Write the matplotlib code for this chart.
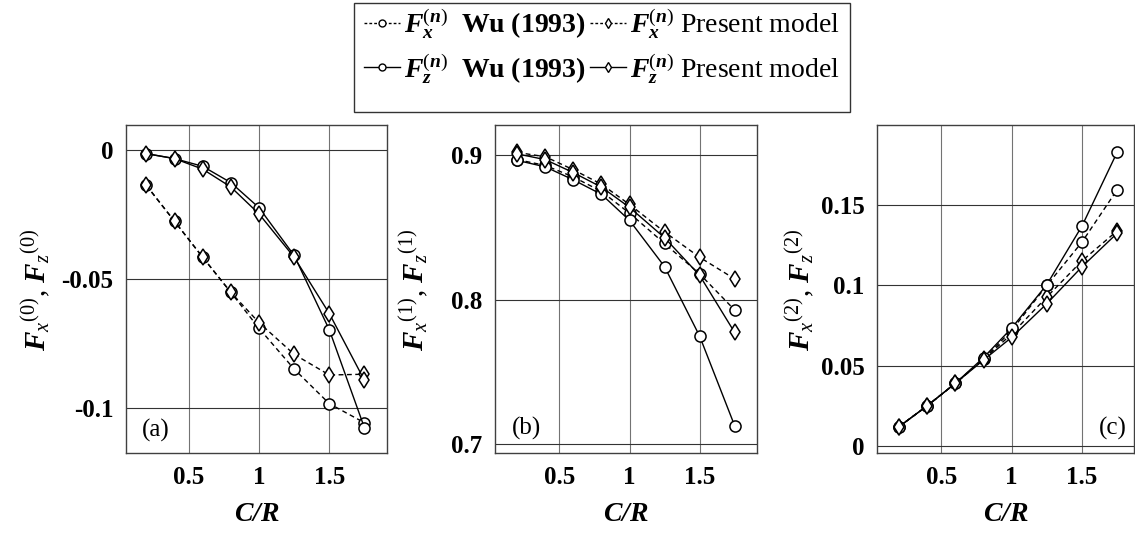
#!/usr/bin/env python3
"""Forces F_x^(n), F_z^(n) against C/R: Wu (1993) vs present model."""

import matplotlib

matplotlib.use("Agg")
import matplotlib.pyplot as plt
from matplotlib.lines import Line2D
from matplotlib.patches import Rectangle

plt.rcParams["font.family"] = ["Liberation Serif", "DejaVu Serif"]
plt.rcParams["mathtext.fontset"] = "custom"
plt.rcParams["mathtext.rm"] = "Liberation Serif"
plt.rcParams["mathtext.it"] = "Liberation Serif:italic"
plt.rcParams["mathtext.bf"] = "Liberation Serif:bold"
plt.rcParams["mathtext.bfit"] = "Liberation Serif:italic:bold"

# C/R sample points shared by every curve
cr = [0.2, 0.4, 0.6, 0.8, 1.0, 1.25, 1.5, 1.75]

# (a) n = 0
fx0_wu = [-0.0139, -0.0278, -0.0417, -0.0553, -0.0692, -0.0850, -0.0984, -0.1058]
fx0_present = [-0.0139, -0.0278, -0.0417, -0.0553, -0.0670, -0.0793, -0.0873, -0.0870]
fz0_wu = [-0.0016, -0.0035, -0.0065, -0.0128, -0.0225, -0.0410, -0.0698, -0.1078]
fz0_present = [-0.0016, -0.0035, -0.0076, -0.0145, -0.0249, -0.0417, -0.0635, -0.0894]

# (b) n = 1
fx1_wu = [0.897, 0.893, 0.885, 0.875, 0.860, 0.839, 0.818, 0.793]
fx1_present = [0.902, 0.899, 0.890, 0.880, 0.866, 0.847, 0.8295, 0.8145]
fz1_wu = [0.8965, 0.892, 0.883, 0.873, 0.855, 0.823, 0.775, 0.713]
fz1_present = [0.901, 0.897, 0.888, 0.878, 0.864, 0.843, 0.817, 0.7775]

# (c) n = 2
fx2_wu = [0.012, 0.025, 0.039, 0.054, 0.072, 0.100, 0.127, 0.1596]
fx2_present = [0.012, 0.025, 0.039, 0.054, 0.0697, 0.0928, 0.1153, 0.134]
fz2_wu = [0.012, 0.025, 0.039, 0.055, 0.0734, 0.1005, 0.137, 0.183]
fz2_present = [0.012, 0.025, 0.039, 0.0535, 0.0676, 0.0886, 0.1116, 0.1325]

x_ticks = [0.5, 1, 1.5]
x_ticklabels = ["0.5", "1", "1.5"]
y_ticks = [[0, -0.05, -0.1], [0.7, 0.8, 0.9], [0, 0.05, 0.1, 0.15]]
y_ticklabels = [["0", "-0.05", "-0.1"], ["0.7", "0.8", "0.9"], ["0", "0.05", "0.1", "0.15"]]
panel_tags = ["(a)", "(b)", "(c)"]
y_labels = [
    r"$\mathbfit{F}_{x}{}^{(0)}$, $\mathbfit{F}_{z}{}^{(0)}$",
    r"$\mathbfit{F}_{x}{}^{(1)}$, $\mathbfit{F}_{z}{}^{(1)}$",
    r"$\mathbfit{F}_{x}{}^{(2)}$, $\mathbfit{F}_{z}{}^{(2)}$",
]
legend_labels = [
    r"$\mathbfit{F}_{\mathbfit{x}}^{(\mathbfit{n})}$  $\mathbf{Wu\ (1993)}$",
    r"$\mathbfit{F}_{\mathbfit{z}}^{(\mathbfit{n})}$  $\mathbf{Wu\ (1993)}$",
    r"$\mathbfit{F}_{\mathbfit{x}}^{(\mathbfit{n})}$ Present model",
    r"$\mathbfit{F}_{\mathbfit{z}}^{(\mathbfit{n})}$ Present model",
]

panels = [
    (fx0_wu, fx0_present, fz0_wu, fz0_present),
    (fx1_wu, fx1_present, fz1_wu, fz1_present),
    (fx2_wu, fx2_present, fz2_wu, fz2_present),
]

W, H = 1135, 534
fig = plt.figure(figsize=(W / 100, H / 100), dpi=100)

# axes boxes in pixels: left, right, xlim
boxes = [(126, 387, (0.055, 1.91)), (495, 757, (0.04, 1.91)), (877, 1134, (0.042, 1.87))]
ylims = [(-0.1175, 0.0095), (0.694, 0.921), (-0.0045, 0.2)]
ylabel_x = [36, 414, 800]
tag_pos = [(0.06, 0.07, "left"), (0.064, 0.076, "left"), (0.97, 0.076, "right")]
top_px, bot_px = 125, 453

dash = (0, (3.5, 2.5))
style = dict(color="black", lw=1.0, mfc="white", mec="black", mew=1.1)

for i, (fx_wu, fx_pr, fz_wu, fz_pr) in enumerate(panels):
    left, right, xlim = boxes[i]
    ax = fig.add_axes([left / W, 1 - bot_px / H, (right - left) / W, (bot_px - top_px) / H])
    ax.plot(cr, fx_wu, ls=dash, marker="o", ms=8, zorder=3, **style)
    ax.plot(cr, fx_pr, ls=dash, marker="d", ms=8, zorder=3, **style)
    ax.plot(cr, fz_wu, ls="-", marker="o", ms=8, zorder=3, **style)
    ax.plot(cr, fz_pr, ls="-", marker="d", ms=8, zorder=3, **style)

    ax.set_xlim(*xlim)
    ax.set_ylim(*ylims[i])
    ax.set_xticks(x_ticks)
    ax.set_xticklabels(x_ticklabels)
    ax.set_yticks(y_ticks[i])
    ax.set_yticklabels(y_ticklabels[i])
    ax.tick_params(length=0, pad=9, labelsize=18)
    for lab in ax.get_xticklabels() + ax.get_yticklabels():
        lab.set_fontweight("bold")
    ax.grid(True, axis="x", color="0.45", lw=0.8)
    ax.grid(True, axis="y", color="0.2", lw=0.8)
    ax.set_axisbelow(True)
    for sp in ax.spines.values():
        sp.set_color("0.25")
        sp.set_linewidth(1.0)

    ax.set_xlabel(r"$\mathbfit{C/R}$", fontsize=20)
    ax.xaxis.set_label_coords(0.5, -0.15)
    fig.text(ylabel_x[i] / W, 1 - 290 / H, y_labels[i], rotation=90,
             ha="center", va="center", fontsize=21)
    tx, ty, ha = tag_pos[i]
    ax.text(tx, ty, panel_tags[i], transform=ax.transAxes, ha=ha, va="center", fontsize=18)

# legend handles use a finer dash than the curves
leg_dash = (0, (2.0, 1.5))
leg_style = dict(color="black", lw=1.0, mfc="white", mec="black", mew=1.0, ms=5)
handles = [
    Line2D([], [], ls=leg_dash, marker="o", **leg_style),
    Line2D([], [], ls="-", marker="o", **leg_style),
    Line2D([], [], ls=leg_dash, marker="d", **leg_style),
    Line2D([], [], ls="-", marker="d", **leg_style),
]
fig.legend(handles, legend_labels, ncol=2, loc="upper center",
           bbox_to_anchor=(602 / W, 1 + 13 / H), frameon=False, fontsize=20,
           handlelength=1.3, handletextpad=0.15, columnspacing=0.15,
           labelspacing=0.35, borderpad=0.2)
fig.patches.append(Rectangle((354 / W, 1 - 112 / H), 496 / W, 109 / H,
                             transform=fig.transFigure, fill=False, ec="0.2", lw=1.0))

fig.savefig("out.png", dpi=100)
